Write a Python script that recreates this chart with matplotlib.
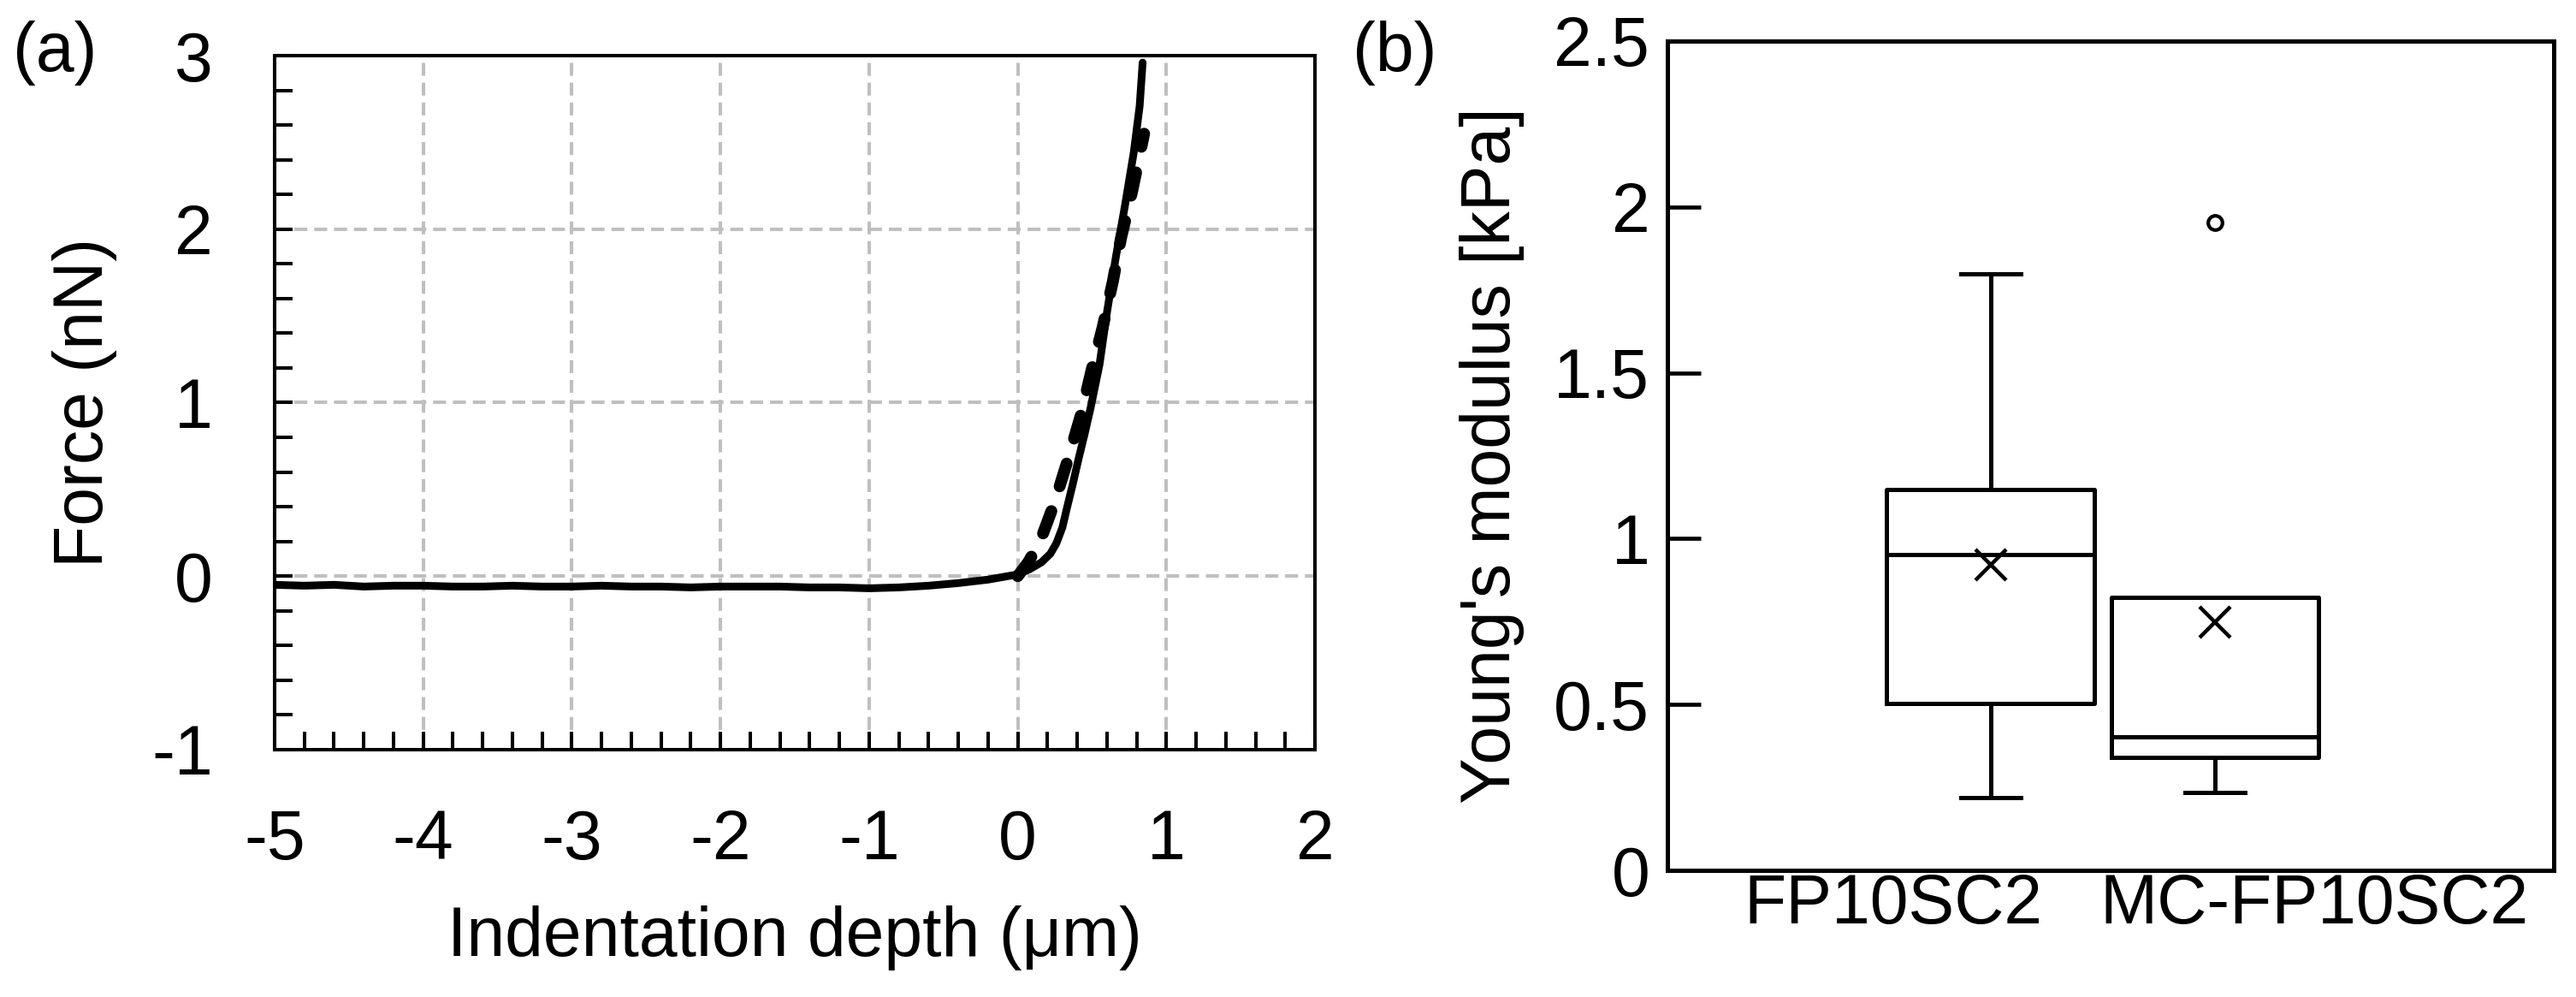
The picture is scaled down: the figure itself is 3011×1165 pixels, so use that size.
import matplotlib
matplotlib.use("Agg")
import matplotlib.pyplot as plt
from matplotlib.ticker import MultipleLocator, FormatStrFormatter

plt.rcParams['font.family'] = ['Liberation Sans', 'DejaVu Sans']
plt.rcParams['axes.unicode_minus'] = False
plt.rcParams['font.size'] = 58

# (a) force curve, solid = measured approach curve
solid_x = [-5.0, -4.8, -4.6, -4.4, -4.2, -4.0, -3.8, -3.6, -3.4, -3.2, -3.0, -2.8, -2.6,
           -2.4, -2.2, -2.0, -1.8, -1.6, -1.4, -1.2, -1.0, -0.8, -0.6, -0.4, -0.2, 0.0,
           0.08, 0.16, 0.22, 0.26, 0.30, 0.33, 0.37, 0.41, 0.45, 0.49, 0.55, 0.60,
           0.66, 0.72, 0.78, 0.82, 0.84]
solid_y = [-0.05, -0.055, -0.05, -0.06, -0.055, -0.055, -0.06, -0.06, -0.055, -0.06, -0.06,
           -0.055, -0.06, -0.06, -0.065, -0.06, -0.06, -0.06, -0.065, -0.065, -0.07, -0.065,
           -0.055, -0.04, -0.02, 0.01,
           0.04, 0.08, 0.13, 0.19, 0.28, 0.39, 0.53, 0.68, 0.82, 0.97, 1.22, 1.52,
           1.84, 2.13, 2.44, 2.71, 2.96]
# dashed curve
dash_x = [0.0, 0.07, 0.15, 0.25, 0.34, 0.425, 0.50, 0.57, 0.64, 0.695, 0.77, 0.85]
dash_y = [0.0, 0.08, 0.20, 0.43, 0.68, 0.93, 1.20, 1.43, 1.70, 1.95, 2.22, 2.55]

# (b) Young's modulus box plot stats
groups = ["FP10SC2", "MC-FP10SC2"]
q1 = [0.504, 0.341]
med = [0.952, 0.402]
q3 = [1.149, 0.824]
whis_lo = [0.220, 0.234]
whis_hi = [1.797, 0.824]
means = [0.920, 0.747]
fliers = [[], [1.954]]

fig = plt.figure(figsize=(30.11, 11.65), dpi=100)

# ---- panel (a)
ax1 = fig.add_axes([0.1066, 0.2481, 0.4039, 0.6961])
ax1.plot(solid_x, solid_y, color='black', lw=6.5, solid_joinstyle='round',
         solid_capstyle='round', zorder=3)
ax1.plot(dash_x, dash_y, color='black', lw=10, dashes=(2.0, 2.2),
         dash_capstyle='round', zorder=3)
ax1.set_xlim(-5, 2)
ax1.set_ylim(-1, 3)
ax1.xaxis.set_major_locator(MultipleLocator(1))
ax1.xaxis.set_minor_locator(MultipleLocator(0.2))
ax1.yaxis.set_major_locator(MultipleLocator(1))
ax1.yaxis.set_minor_locator(MultipleLocator(0.2))
ax1.xaxis.set_major_formatter(FormatStrFormatter('%g'))
ax1.yaxis.set_major_formatter(FormatStrFormatter('%g'))
ax1.grid(True, which='major', color='#bfbfbf', lw=2.9, dashes=(3.75, 2))
ax1.tick_params(which='both', direction='in', length=15, width=2.9,
                top=False, right=False)
ax1.tick_params(axis='x', which='major', pad=50)
ax1.tick_params(axis='y', which='major', pad=52)
for s in ax1.spines.values():
    s.set_linewidth(2.9)
ax1.set_xlabel("Indentation depth (μm)", labelpad=26)
ax1.set_ylabel("Force (nN)", labelpad=29)
fig.text(0.005, 0.9288, "(a)", va='baseline', ha='left')

# ---- panel (b)
ax2 = fig.add_axes([0.6473, 0.1270, 0.3441, 0.8318])
stats = []
for i in range(len(groups)):
    stats.append({'label': groups[i], 'q1': q1[i], 'med': med[i], 'q3': q3[i],
                  'whislo': whis_lo[i], 'whishi': whis_hi[i], 'mean': means[i],
                  'fliers': fliers[i]})
line_kw = dict(color='black', lw=3.6)
ax2.bxp(stats, positions=[0.729, 1.235], widths=0.468, capwidths=0.135,
        showmeans=True, manage_ticks=False,
        boxprops=line_kw, whiskerprops=line_kw, capprops=line_kw,
        medianprops=line_kw,
        meanprops=dict(marker='x', markersize=26, markeredgewidth=3.2,
                       markeredgecolor='black', linestyle='none'),
        flierprops=dict(marker='o', markersize=12, markeredgewidth=3,
                        markeredgecolor='black', markerfacecolor='white'))
ax2.set_xlim(0, 2)
ax2.set_ylim(0, 2.5)
ax2.set_xticks([0.51, 1.46])
ax2.set_xticklabels(groups)
ax2.yaxis.set_major_locator(MultipleLocator(0.5))
ax2.yaxis.set_major_formatter(FormatStrFormatter('%g'))
ax2.tick_params(axis='y', direction='in', length=28, width=3.4, pad=15, right=False)
ax2.tick_params(axis='x', length=0, pad=2)
for s in ax2.spines.values():
    s.set_linewidth(3.6)
ax2.set_ylabel("Young's modulus [kPa]", labelpad=25)
fig.text(0.525, 0.9288, "(b)", va='baseline', ha='left')

fig.savefig("out.png", dpi=100)
